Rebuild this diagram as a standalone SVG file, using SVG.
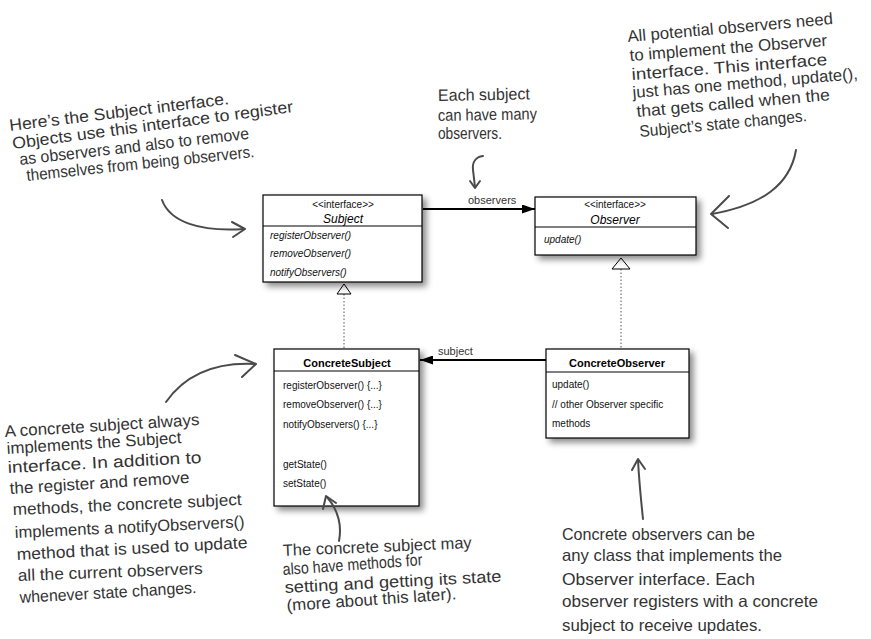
<svg xmlns="http://www.w3.org/2000/svg" width="871" height="639" viewBox="0 0 871 639">
<style>
.box{fill:#fff;stroke:#000;stroke-width:1.2}
.div{stroke:#000;stroke-width:1}
.uml{font-family:"Liberation Sans",Arial,sans-serif;font-size:10px;fill:#111}
.ster{font-family:"Liberation Sans",Arial,sans-serif;font-size:10px;fill:#111;text-anchor:middle}
.iname{font-family:"Liberation Sans",Arial,sans-serif;font-size:12px;font-style:italic;fill:#000;text-anchor:middle}
.cname{font-family:"Liberation Sans",Arial,sans-serif;font-size:11px;font-weight:bold;fill:#000;text-anchor:middle}
.it{font-style:italic}
.lbl{font-family:"Liberation Sans",Arial,sans-serif;font-size:11px;fill:#333}
.hand{font-family:"Liberation Sans",Arial,sans-serif;font-size:16.5px;fill:#333}
.assoc{stroke:#000;stroke-width:2;fill:none}
.real{stroke:#555;stroke-width:1;stroke-dasharray:1.5 2;fill:none}
.tri{fill:#fff;stroke:#000;stroke-width:1}
.harrow{stroke:#4a4a4a;stroke-width:2;fill:none;stroke-linecap:round;stroke-linejoin:round}
</style>
<defs>
<filter id="sh" x="-10%" y="-10%" width="130%" height="140%">
<feDropShadow dx="4" dy="4" stdDeviation="3" flood-color="#000" flood-opacity="0.45"/>
</filter>
<marker id="fa" viewBox="0 0 13 9" refX="13" refY="4.5" markerWidth="13" markerHeight="9" markerUnits="userSpaceOnUse" orient="auto">
<path d="M0,0 L13,4.5 L0,9 z" fill="#000"/>
</marker>
</defs>
<rect width="871" height="639" fill="#fff"/>

<g id="connectors">
<line class="assoc" x1="423" y1="209" x2="535" y2="209" marker-end="url(#fa)"/>
<text class="lbl" x="468" y="204">observers</text>
<line class="assoc" x1="546" y1="360" x2="420" y2="360" marker-end="url(#fa)"/>
<text class="lbl" x="438" y="355">subject</text>
<line class="real" x1="344" y1="294" x2="344" y2="349"/>
<polygon class="tri" points="344,284 337,294 351,294"/>
<line class="real" x1="621" y1="269" x2="621" y2="348"/>
<polygon class="tri" points="621,258 612,269 630,269"/>
</g>

<g id="Subject">
<rect class="box" x="263" y="195" width="159" height="87" filter="url(#sh)"/>
<line class="div" x1="263" y1="226" x2="422" y2="226"/>
<text class="ster" x="343" y="208">&lt;&lt;interface&gt;&gt;</text>
<text class="iname" x="343" y="223">Subject</text>
<text class="uml it" x="270" y="239">registerObserver()</text>
<text class="uml it" x="270" y="257">removeObserver()</text>
<text class="uml it" x="270" y="276">notifyObservers()</text>
</g>

<g id="Observer">
<rect class="box" x="535" y="197" width="161" height="58" filter="url(#sh)"/>
<line class="div" x1="535" y1="227" x2="696" y2="227"/>
<text class="ster" x="615" y="208">&lt;&lt;interface&gt;&gt;</text>
<text class="iname" x="615" y="224">Observer</text>
<text class="uml it" x="544" y="243">update()</text>
</g>

<g id="ConcreteSubject">
<rect class="box" x="274" y="349" width="145" height="157" filter="url(#sh)"/>
<line class="div" x1="274" y1="371" x2="419" y2="371"/>
<text class="cname" x="347" y="367">ConcreteSubject</text>
<text class="uml" x="283" y="389">registerObserver() {...}</text>
<text class="uml" x="283" y="408">removeObserver() {...}</text>
<text class="uml" x="283" y="428">notifyObservers() {...}</text>
<text class="uml" x="283" y="468">getState()</text>
<text class="uml" x="283" y="487">setState()</text>
</g>

<g id="ConcreteObserver">
<rect class="box" x="546" y="349" width="143" height="89" filter="url(#sh)"/>
<line class="div" x1="546" y1="372" x2="689" y2="372"/>
<text class="cname" x="617" y="367">ConcreteObserver</text>
<text class="uml" x="552" y="388">update()</text>
<text class="uml" x="552" y="408">// other Observer specific</text>
<text class="uml" x="552" y="427">methods</text>
</g>

<g id="note-subject-interface">
<text class="hand" x="10" y="131" transform="rotate(-7 10 131)" textLength="221" lengthAdjust="spacingAndGlyphs">Here’s the Subject interface.</text>
<text class="hand" x="13" y="149" transform="rotate(-7.5 13 149)" textLength="283" lengthAdjust="spacingAndGlyphs">Objects use this interface to register</text>
<text class="hand" x="20" y="165" transform="rotate(-6.5 20 165)" textLength="231" lengthAdjust="spacingAndGlyphs">as observers and also to remove</text>
<text class="hand" x="27" y="181" transform="rotate(-6 27 181)" textLength="229" lengthAdjust="spacingAndGlyphs">themselves from being observers.</text>
<path class="harrow" d="M162 200 C170 222 200 232 244 229"/>
<path class="harrow" d="M232 222 L245 229 L233 237"/>
</g>

<g id="note-many">
<text class="hand" x="438" y="101" transform="rotate(-1 438 101)" textLength="92" lengthAdjust="spacingAndGlyphs">Each subject</text>
<text class="hand" x="438" y="121" transform="rotate(-1 438 121)" textLength="99" lengthAdjust="spacingAndGlyphs">can have many</text>
<text class="hand" x="438" y="139" textLength="64" lengthAdjust="spacingAndGlyphs">observers.</text>
<path class="harrow" stroke-width="1.6" d="M483 156 C476 157 472 162 473 170 L475 187"/>
<path class="harrow" stroke-width="1.6" d="M470 181 L475 188 L480 181"/>
</g>

<g id="note-observer-interface">
<text class="hand" x="628" y="42" transform="rotate(-5 628 42)" textLength="206" lengthAdjust="spacingAndGlyphs">All potential observers need</text>
<text class="hand" x="630" y="61" transform="rotate(-4.4 630 61)" textLength="198" lengthAdjust="spacingAndGlyphs">to implement the Observer</text>
<text class="hand" x="632" y="80" transform="rotate(-4.4 632 80)" textLength="196" lengthAdjust="spacingAndGlyphs">interface.  This interface</text>
<text class="hand" x="633" y="98" transform="rotate(-4.8 633 98)" textLength="226" lengthAdjust="spacingAndGlyphs">just has one method, update(),</text>
<text class="hand" x="637" y="117" transform="rotate(-5 637 117)" textLength="194" lengthAdjust="spacingAndGlyphs">that gets called when the</text>
<text class="hand" x="640" y="137" transform="rotate(-5.4 640 137)" textLength="168" lengthAdjust="spacingAndGlyphs">Subject’s state changes.</text>
<path class="harrow" d="M796 150 C790 185 762 205 712 214"/>
<path class="harrow" d="M729 196 L711 214 L728 228"/>
</g>

<g id="note-concrete-subject">
<text class="hand" x="5" y="437" transform="rotate(-3.5 5 437)" textLength="195" lengthAdjust="spacingAndGlyphs">A concrete subject always</text>
<text class="hand" x="7" y="454" transform="rotate(-3.6 7 454)" textLength="175" lengthAdjust="spacingAndGlyphs">implements the Subject</text>
<text class="hand" x="8" y="473" transform="rotate(-3 8 473)" textLength="194" lengthAdjust="spacingAndGlyphs">interface.  In addition to</text>
<text class="hand" x="10" y="494" transform="rotate(-3.5 10 494)" textLength="180" lengthAdjust="spacingAndGlyphs">the register and remove</text>
<text class="hand" x="13" y="515" transform="rotate(-2.5 13 515)" textLength="229" lengthAdjust="spacingAndGlyphs">methods, the concrete subject</text>
<text class="hand" x="15" y="538" transform="rotate(-2.7 15 538)" textLength="230" lengthAdjust="spacingAndGlyphs">implements a notifyObservers()</text>
<text class="hand" x="17" y="560" transform="rotate(-3 17 560)" textLength="231" lengthAdjust="spacingAndGlyphs">method that is used to update</text>
<text class="hand" x="18" y="581" transform="rotate(-2.2 18 581)" textLength="185" lengthAdjust="spacingAndGlyphs">all the current observers</text>
<text class="hand" x="20" y="603" transform="rotate(-3.2 20 603)" textLength="177" lengthAdjust="spacingAndGlyphs">whenever state changes.</text>
<path class="harrow" d="M166 402 C185 375 215 362 255 364"/>
<path class="harrow" d="M235 355 L256 364 L242 377"/>
</g>

<g id="note-state">
<text class="hand" x="283" y="556" transform="rotate(-2.4 283 556)" textLength="189" lengthAdjust="spacingAndGlyphs">The concrete subject may</text>
<text class="hand" x="283" y="575" transform="rotate(-4 283 575)" textLength="140" lengthAdjust="spacingAndGlyphs">also have methods for</text>
<text class="hand" x="285" y="593" transform="rotate(-3 285 593)" textLength="217" lengthAdjust="spacingAndGlyphs">setting and getting its state</text>
<text class="hand" x="287" y="611" transform="rotate(-4 287 611)" textLength="170" lengthAdjust="spacingAndGlyphs">(more about this later).</text>
<path class="harrow" d="M339 541 C342 525 338 510 327 497"/>
<path class="harrow" d="M323 509 L326 496 L336 503"/>
</g>

<g id="note-concrete-observers">
<text class="hand" x="562" y="540" textLength="193" lengthAdjust="spacingAndGlyphs">Concrete observers can be</text>
<text class="hand" x="562" y="561" textLength="220" lengthAdjust="spacingAndGlyphs">any class that implements the</text>
<text class="hand" x="562" y="585" textLength="193" lengthAdjust="spacingAndGlyphs">Observer interface.  Each</text>
<text class="hand" x="562" y="607" textLength="256" lengthAdjust="spacingAndGlyphs">observer registers with a concrete</text>
<text class="hand" x="562" y="631" textLength="200" lengthAdjust="spacingAndGlyphs">subject to receive updates.</text>
<path class="harrow" d="M643 519 C641 500 639 480 638 460"/>
<path class="harrow" d="M632 470 L638 459 L645 469"/>
</g>
</svg>
